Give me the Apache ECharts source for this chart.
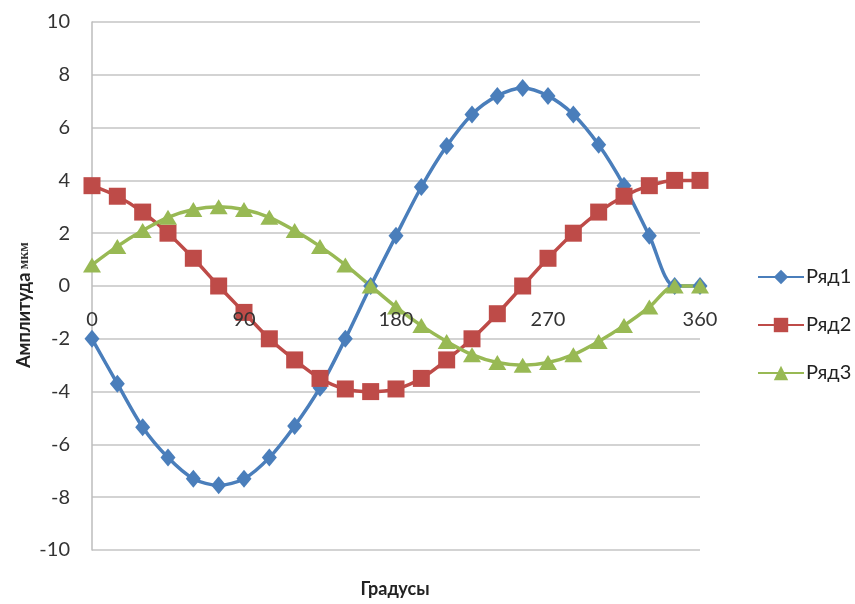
<!DOCTYPE html>
<html>
<head>
<meta charset="utf-8">
<script src="https://cdn.jsdelivr.net/npm/echarts@6/dist/echarts.min.js"></script>
<style>
  html, body { margin: 0; padding: 0; background: #fff; }
  #chart { width: 855px; height: 604px; }
</style>
</head>
<body>
<div id="chart"></div>
<script>
// Angle in degrees, one point every 15°
const degrees = [0, 15, 30, 45, 60, 75, 90, 105, 120, 135, 150, 165, 180,
                 195, 210, 225, 240, 255, 270, 285, 300, 315, 330, 345, 360];

const series1 = [-2.0, -3.7, -5.35, -6.5, -7.3, -7.55, -7.3, -6.5, -5.3, -3.85, -2.0, 0.0, 1.9,
                 3.75, 5.3, 6.5, 7.2, 7.5, 7.2, 6.5, 5.35, 3.8, 1.9, 0.0, 0.0];
const series2 = [3.8, 3.4, 2.8, 2.0, 1.05, 0.0, -1.0, -2.0, -2.8, -3.5, -3.9, -4.0, -3.9,
                 -3.5, -2.8, -2.0, -1.05, 0.0, 1.05, 2.0, 2.8, 3.4, 3.8, 4.0, 4.0];
const series3 = [0.8, 1.5, 2.1, 2.6, 2.9, 3.0, 2.9, 2.6, 2.1, 1.5, 0.8, 0.0, -0.8,
                 -1.5, -2.1, -2.6, -2.9, -3.0, -2.9, -2.6, -2.1, -1.5, -0.8, 0.0, 0.0];

const seriesNames = ['Ряд1', 'Ряд2', 'Ряд3'];
const xTicks = [0, 90, 180, 270, 360];
const yTicks = [-10, -8, -6, -4, -2, 0, 2, 4, 6, 8, 10];

const font = 'Lato, "Open Sans", "Liberation Sans", sans-serif';

// Plot area in pixels
const plotTop = 22, plotBottom = 550;

function pairs(values) {
  return degrees.map((d, i) => [d, values[i]]);
}

const chart = echarts.init(document.getElementById('chart'), null, { renderer: 'canvas' });

const styles = [
  { color: '#4A7EBB', symbol: 'diamond', size: [15, 18] },
  { color: '#BE4B48', symbol: 'rect', size: [17, 17] },
  { color: '#98B954', symbol: 'triangle', size: [18, 15] }
];
const allValues = [series1, series2, series3];

// The degree axis sits on the zero line of the amplitude axis
const yMin = yTicks[0], yMax = yTicks[yTicks.length - 1];
const zeroOffset = (plotBottom - plotTop) * (0 - yMin) / (yMax - yMin);

chart.setOption({
  animation: false,
  backgroundColor: '#ffffff',
  grid: { left: 92, right: 155, top: plotTop, bottom: 604 - plotBottom, containLabel: false, outerBoundsMode: 'none' },
  legend: {
    orient: 'vertical',
    left: 752,
    top: 262,
    itemGap: 28,
    itemWidth: 46,
    itemHeight: 18,
    textStyle: { fontFamily: font, fontSize: 20, color: '#222', padding: [0, 0, 0, -3] },
    data: seriesNames
  },
  xAxis: {
    type: 'value',
    min: xTicks[0],
    max: xTicks[xTicks.length - 1],
    interval: 90,
    position: 'bottom',
    offset: -zeroOffset,
    z: 5,
    // the zero grid line of the amplitude axis serves as the axis line
    axisLine: { show: false, onZero: false },
    axisTick: { show: false },
    axisLabel: { fontFamily: font, fontSize: 20, color: '#333', margin: 24 },
    splitLine: { show: false }
  },
  yAxis: {
    type: 'value',
    min: yMin,
    max: yMax,
    interval: 2,
    axisLine: { show: true, onZero: false, lineStyle: { color: '#bdbdbd', width: 1.5 } },
    axisTick: { show: false },
    axisLabel: { fontFamily: font, fontSize: 20, color: '#333', margin: 22 },
    splitLine: { show: true, lineStyle: { color: '#c4c4c4', width: 1.5 } }
  },
  // Axis titles
  graphic: [
    {
      type: 'text',
      x: 395, y: 589,
      style: {
        text: 'Градусы', align: 'center', verticalAlign: 'middle',
        font: 'bold 18px ' + font, fill: '#222'
      }
    },
    {
      type: 'text',
      x: 24, y: 305, rotation: Math.PI / 2,
      style: {
        text: '{a|Амплитуда} {b|мкм}', align: 'center', verticalAlign: 'middle',
        rich: {
          a: { fontFamily: font, fontSize: 18, fontWeight: 'bold', fill: '#222' },
          b: { fontFamily: '"Liberation Serif", "DejaVu Serif", serif', fontSize: 14, fontWeight: 'bold', fill: '#333' }
        }
      }
    }
  ],
  series: seriesNames.map((name, i) => ({
    name: name,
    type: 'line',
    data: pairs(allValues[i]),
    smooth: 0.3,
    symbol: styles[i].symbol,
    symbolSize: styles[i].size,
    itemStyle: { color: styles[i].color },
    lineStyle: { color: styles[i].color, width: 3.5 }
  }))
});
</script>
</body>
</html>
